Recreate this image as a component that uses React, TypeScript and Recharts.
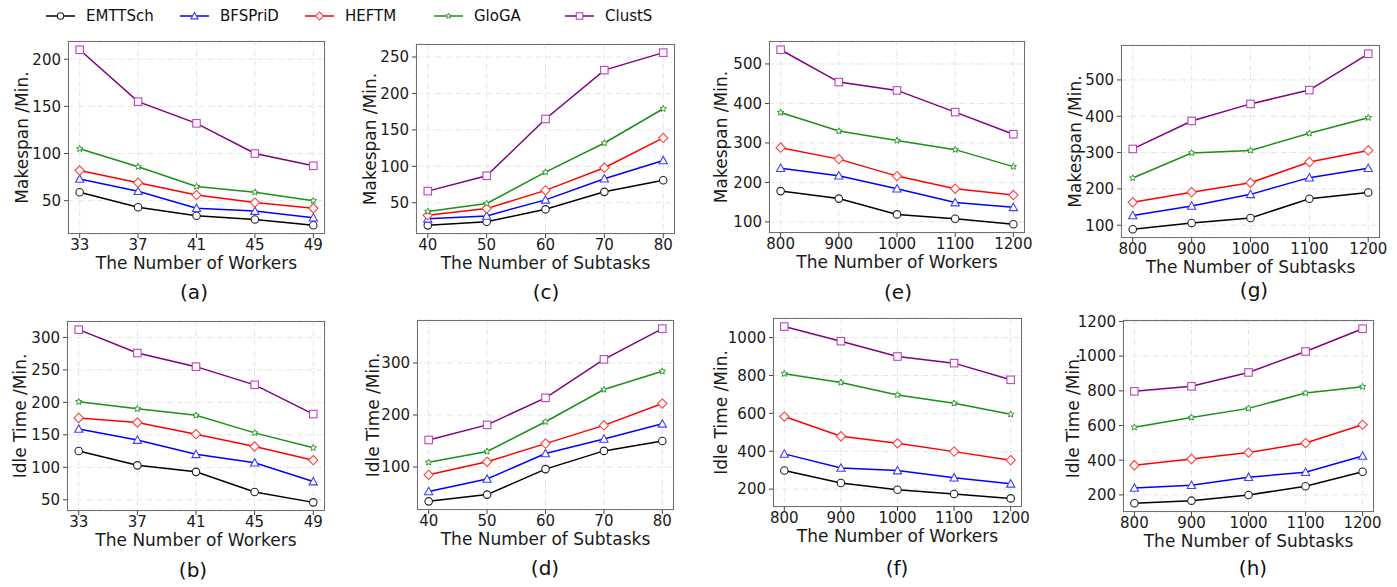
import React from 'react';
import { LineChart, Line, XAxis, YAxis, CartesianGrid } from 'recharts';

const FONT = '"DejaVu Sans", sans-serif';

// x categories
const workersFew = [33, 37, 41, 45, 49];
const subtasksFew = [40, 50, 60, 70, 80];
const manyValues = [800, 900, 1000, 1100, 1200];

// (a) makespan vs workers
const aEMTTSch = [59, 43, 34, 30, 24];
const aBFSPriD = [73, 60, 42, 39, 32];
const aHEFTM = [82, 69, 56, 48, 42];
const aGloGA = [105, 86, 65, 59, 50];
const aClustS = [210, 155, 132, 100, 87];

// (b) idle time vs workers
const bEMTTSch = [125, 103, 93, 62, 46];
const bBFSPriD = [159, 142, 120, 107, 78];
const bHEFTM = [176, 169, 151, 132, 111];
const bGloGA = [201, 190, 180, 153, 130];
const bClustS = [312, 276, 255, 227, 182];

// (c) makespan vs subtasks
const cEMTTSch = [19, 24, 41, 65, 81];
const cBFSPriD = [28, 32, 54, 83, 108];
const cHEFTM = [33, 42, 67, 98, 139];
const cGloGA = [38, 49, 92, 132, 179];
const cClustS = [66, 87, 165, 232, 256];

// (d) idle time vs subtasks
const dEMTTSch = [34, 47, 96, 131, 150];
const dBFSPriD = [53, 77, 126, 154, 183];
const dHEFTM = [85, 110, 145, 180, 222];
const dGloGA = [109, 130, 187, 249, 284];
const dClustS = [152, 181, 233, 307, 366];

// (e) makespan vs workers (large)
const eEMTTSch = [178, 159, 119, 108, 94];
const eBFSPriD = [236, 217, 184, 149, 137];
const eHEFTM = [288, 259, 216, 184, 168];
const eGloGA = [377, 330, 306, 283, 240];
const eClustS = [536, 454, 433, 378, 322];

// (f) idle time vs workers (large)
const fEMTTSch = [298, 232, 197, 174, 151];
const fBFSPriD = [386, 312, 298, 260, 228];
const fHEFTM = [583, 479, 442, 398, 353];
const fGloGA = [809, 763, 697, 653, 595];
const fClustS = [1058, 981, 900, 865, 777];

// (g) makespan vs subtasks (large)
const gEMTTSch = [89, 106, 120, 173, 190];
const gBFSPriD = [127, 153, 185, 231, 257];
const gHEFTM = [163, 191, 217, 274, 306];
const gGloGA = [230, 299, 306, 353, 396];
const gClustS = [310, 387, 434, 472, 572];

// (h) idle time vs subtasks (large)
const hEMTTSch = [152, 167, 200, 250, 334];
const hBFSPriD = [240, 256, 302, 331, 425];
const hHEFTM = [371, 407, 444, 499, 605];
const hGloGA = [590, 647, 699, 787, 824];
const hClustS = [797, 826, 906, 1027, 1158];

const SERIES = [
  { key: 'EMTTSch', line: '#000000', mark: '#222222', shape: 'circle' },
  { key: 'BFSPriD', line: '#0000ff', mark: '#4040ff', shape: 'triangle' },
  { key: 'HEFTM', line: '#ff0000', mark: '#ff4040', shape: 'diamond' },
  { key: 'GloGA', line: '#1a8f1a', mark: '#2a9d2a', shape: 'star' },
  { key: 'ClustS', line: '#800080', mark: '#bb44bb', shape: 'square' },
];

function starPath(cx: number, cy: number, ro: number, ri: number) {
  let d = '';
  for (let i = 0; i < 10; i++) {
    const r = i % 2 === 0 ? ro : ri;
    const a = -Math.PI / 2 + (i * Math.PI) / 5;
    d += (i === 0 ? 'M' : 'L') + (cx + r * Math.cos(a)).toFixed(2) + ',' + (cy + r * Math.sin(a)).toFixed(2);
  }
  return d + 'Z';
}

function marker(shape: string, color: string, cx: number, cy: number, s: number, key?: any) {
  const common = { fill: '#fff', stroke: color, strokeWidth: 1.1 };
  if (shape === 'circle') return <circle key={key} cx={cx} cy={cy} r={s * 0.5} {...common} />;
  if (shape === 'square')
    return <rect key={key} x={cx - s * 0.5} y={cy - s * 0.5} width={s} height={s} {...common} />;
  if (shape === 'triangle') {
    const h = s * 0.55;
    return (
      <path key={key} d={`M${cx},${cy - h}L${cx + h},${cy + h * 0.8}L${cx - h},${cy + h * 0.8}Z`} {...common} />
    );
  }
  if (shape === 'diamond') {
    const h = s * 0.62;
    return <path key={key} d={`M${cx},${cy - h}L${cx + h},${cy}L${cx},${cy + h}L${cx - h},${cy}Z`} {...common} />;
  }
  return <path key={key} d={starPath(cx, cy, s * 0.45, s * 0.2)} {...common} strokeWidth={1} />;
}

type Panel = {
  id: string;
  frame: { x: number; y: number; w: number; h: number };
  xs: number[];
  yTicks: number[];
  xLabel: string;
  yLabel: string;
  yGap: number;
  caption: { x: number; y: number };
  values: number[][];
};

const PANELS: Panel[] = [
  {
    id: 'a', frame: { x: 68, y: 41, w: 257, h: 193 }, xs: workersFew, yTicks: [50, 100, 150, 200],
    xLabel: 'The Number of Workers', yLabel: 'Makespan /Min.', yGap: 46, caption: { x: 194, y: 292 },
    values: [aEMTTSch, aBFSPriD, aHEFTM, aGloGA, aClustS],
  },
  {
    id: 'c', frame: { x: 416, y: 44, w: 259, h: 190 }, xs: subtasksFew, yTicks: [50, 100, 150, 200, 250],
    xLabel: 'The Number of Subtasks', yLabel: 'Makespan /Min.', yGap: 46, caption: { x: 546, y: 292 },
    values: [cEMTTSch, cBFSPriD, cHEFTM, cGloGA, cClustS],
  },
  {
    id: 'e', frame: { x: 769, y: 41, w: 256, h: 192 }, xs: manyValues, yTicks: [100, 200, 300, 400, 500],
    xLabel: 'The Number of Workers', yLabel: 'Makespan /Min.', yGap: 48, caption: { x: 898, y: 292 },
    values: [eEMTTSch, eBFSPriD, eHEFTM, eGloGA, eClustS],
  },
  {
    id: 'g', frame: { x: 1121, y: 45, w: 259, h: 193 }, xs: manyValues, yTicks: [100, 200, 300, 400, 500],
    xLabel: 'The Number of Subtasks', yLabel: 'Makespan /Min.', yGap: 46, caption: { x: 1254, y: 290 },
    values: [gEMTTSch, gBFSPriD, gHEFTM, gGloGA, gClustS],
  },
  {
    id: 'b', frame: { x: 67, y: 321, w: 258, h: 190 }, xs: workersFew, yTicks: [50, 100, 150, 200, 250, 300],
    xLabel: 'The Number of Workers', yLabel: 'Idle Time /Min.', yGap: 47, caption: { x: 193, y: 570 },
    values: [bEMTTSch, bBFSPriD, bHEFTM, bGloGA, bClustS],
  },
  {
    id: 'd', frame: { x: 417, y: 320, w: 257, h: 190 }, xs: subtasksFew, yTicks: [100, 200, 300],
    xLabel: 'The Number of Subtasks', yLabel: 'Idle Time /Min.', yGap: 44, caption: { x: 545, y: 568 },
    values: [dEMTTSch, dBFSPriD, dHEFTM, dGloGA, dClustS],
  },
  {
    id: 'f', frame: { x: 773, y: 318, w: 249, h: 189 }, xs: manyValues, yTicks: [200, 400, 600, 800, 1000],
    xLabel: 'The Number of Workers', yLabel: 'Idle Time /Min.', yGap: 52, caption: { x: 897, y: 568 },
    values: [fEMTTSch, fBFSPriD, fHEFTM, fGloGA, fClustS],
  },
  {
    id: 'h', frame: { x: 1123, y: 320, w: 251, h: 192 }, xs: manyValues, yTicks: [200, 400, 600, 800, 1000, 1200],
    xLabel: 'The Number of Subtasks', yLabel: 'Idle Time /Min.', yGap: 50, caption: { x: 1253, y: 568 },
    values: [hEMTTSch, hBFSPriD, hHEFTM, hGloGA, hClustS],
  },
];

// matplotlib-like 5% auto margins
function pad(vals: number[]): [number, number] {
  const lo = Math.min(...vals);
  const hi = Math.max(...vals);
  const m = (hi - lo) * 0.05;
  return [lo - m, hi + m];
}

const YW = 66;
const MT = 10;
const MR = 10;
const XH = 45;

function SubChart({ p }: { p: Panel }) {
  const rows = p.xs.map((x, i) => {
    const r: any = { x };
    SERIES.forEach((s, k) => (r[s.key] = p.values[k][i]));
    return r;
  });
  const { x, y, w, h } = p.frame;
  const tickStyle = { fontFamily: FONT, fontSize: 15, fill: '#1a1a1a' };
  return (
    <>
      <div style={{ position: 'absolute', left: x - YW, top: y - MT }}>
        <LineChart width={w + YW + MR} height={h + MT + XH} data={rows} margin={{ top: MT, right: MR, left: 0, bottom: 0 }}>
          <CartesianGrid stroke="#dddddd" strokeDasharray="5 2 1 2" strokeWidth={0.8} />
          <XAxis
            type="number"
            dataKey="x"
            domain={pad(p.xs)}
            ticks={p.xs}
            height={XH}
            axisLine={false}
            tickLine={{ stroke: '#444' }}
            tickSize={4}
            tickMargin={1}
            tick={tickStyle}
            label={{ value: p.xLabel, position: 'insideBottom', offset: 10, style: { fontFamily: FONT, fontSize: 17, fill: '#1a1a1a' } }}
          />
          <YAxis
            type="number"
            domain={pad(p.values.flat())}
            ticks={p.yTicks}
            width={YW}
            axisLine={false}
            tickLine={{ stroke: '#444' }}
            tickSize={4}
            tickMargin={3}
            tick={tickStyle}
            label={{
              value: p.yLabel,
              angle: -90,
              position: 'insideLeft',
              offset: YW - p.yGap,
              style: { textAnchor: 'middle', fontFamily: FONT, fontSize: 17, fill: '#1a1a1a' },
            }}
          />
          {SERIES.map((s) => (
            <Line
              key={s.key}
              dataKey={s.key}
              stroke={s.line}
              strokeWidth={1.5}
              isAnimationActive={false}
              dot={(d: any) => marker(s.shape, s.mark, d.cx, d.cy, 7.5, `${s.key}-${d.index}`)}
            />
          ))}
        </LineChart>
      </div>
      <div
        style={{
          position: 'absolute', left: x, top: y, width: w, height: h,
          border: '1px solid #707070', boxSizing: 'border-box', pointerEvents: 'none',
        }}
      />
      <div
        style={{
          position: 'absolute', left: p.caption.x - 30, top: p.caption.y - 13, width: 60,
          textAlign: 'center', fontFamily: FONT, fontSize: 20, color: '#111', lineHeight: '26px',
        }}
      >
        ({p.id})
      </div>
    </>
  );
}

const LEGEND_X = [46, 180, 305, 434, 565];

function TopLegend() {
  return (
    <>
      {SERIES.map((s, i) => (
        <div key={s.key} style={{ position: 'absolute', left: LEGEND_X[i], top: 6, height: 20, display: 'flex', alignItems: 'center' }}>
          <svg width={30} height={20}>
            <line x1={0} x2={29} y1={10} y2={10} stroke={s.line} strokeWidth={1.5} />
            {marker(s.shape, s.mark, 14.5, 10, 6.5)}
          </svg>
          <span style={{ marginLeft: 10, fontFamily: FONT, fontSize: 15, color: '#111' }}>{s.key}</span>
        </div>
      ))}
    </>
  );
}

export default function App() {
  return (
    <div style={{ position: 'absolute', left: 0, top: 0, width: 1397, height: 587, background: '#fff', overflow: 'hidden' }}>
      <TopLegend />
      {PANELS.map((p) => (
        <SubChart key={p.id} p={p} />
      ))}
    </div>
  );
}
